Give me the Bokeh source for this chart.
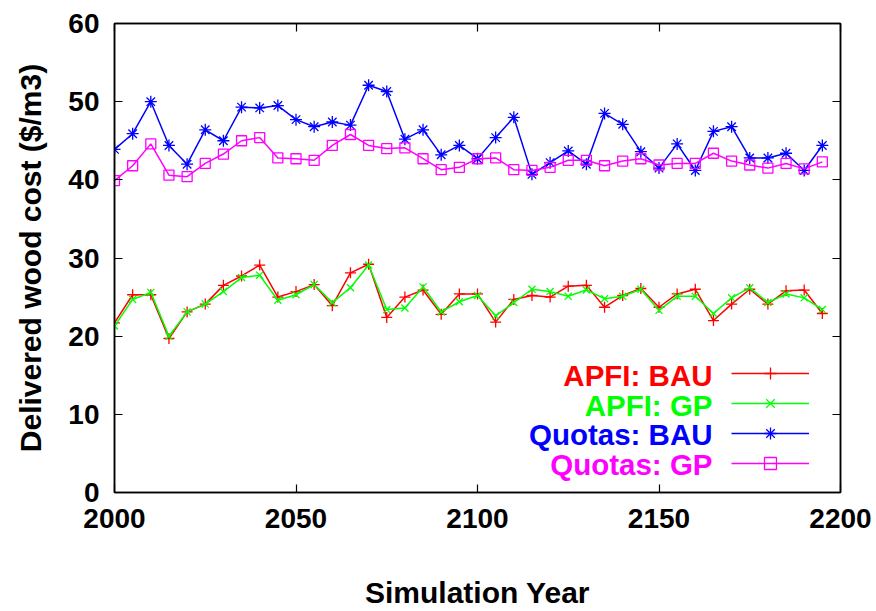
from bokeh.plotting import figure
from bokeh.models import (Range1d, LinearAxis, FixedTicker, Legend, LegendItem, Label)
from bokeh.embed import file_html
from bokeh.resources import INLINE

years = [2000, 2005, 2010, 2015, 2020, 2025, 2030, 2035, 2040, 2045,
         2050, 2055, 2060, 2065, 2070, 2075, 2080, 2085, 2090, 2095,
         2100, 2105, 2110, 2115, 2120, 2125, 2130, 2135, 2140, 2145,
         2150, 2155, 2160, 2165, 2170, 2175, 2180, 2185, 2190, 2195]

apfi_bau = [21.7, 25.3, 25.3, 19.7, 23.1, 24.1, 26.5, 27.7, 29.1, 25.0,
            25.7, 26.6, 23.9, 28.1, 29.2, 22.4, 25.0, 25.9, 22.8, 25.4,
            25.4, 21.8, 24.7, 25.2, 25.0, 26.4, 26.5, 23.7, 25.2, 26.1,
            23.7, 25.4, 26.0, 22.0, 24.1, 26.0, 24.1, 25.8, 25.9, 22.9]

apfi_gp = [21.3, 24.7, 25.6, 20.0, 23.1, 24.1, 25.7, 27.5, 27.8, 24.6,
           25.3, 26.6, 24.3, 26.2, 29.1, 23.4, 23.6, 26.3, 23.1, 24.4,
           25.2, 22.6, 24.3, 26.0, 25.7, 25.1, 25.9, 24.8, 25.1, 26.0,
           23.3, 25.1, 25.1, 22.9, 24.9, 26.2, 24.3, 25.4, 24.9, 23.4]

quotas_bau = [43.9, 45.9, 50.0, 44.4, 42.0, 46.4, 45.0, 49.3, 49.2, 49.5,
              47.7, 46.8, 47.4, 47.0, 52.1, 51.3, 45.2, 46.4, 43.2, 44.4,
              42.7, 45.4, 48.0, 40.7, 42.2, 43.7, 42.0, 48.5, 47.1, 43.6,
              41.5, 44.6, 41.2, 46.2, 46.8, 42.8, 42.8, 43.4, 41.2, 44.4]

quotas_gp = [39.9, 41.8, 44.6, 40.6, 40.4, 42.1, 43.3, 45.0, 45.4, 42.8,
             42.7, 42.5, 44.4, 45.8, 44.4, 44.0, 44.1, 42.7, 41.3, 41.6,
             42.7, 42.8, 41.3, 41.2, 41.6, 42.5, 42.5, 41.8, 42.4, 42.7,
             41.9, 42.1, 42.1, 43.4, 42.4, 41.9, 41.5, 42.1, 41.4, 42.3]

series_names = ["APFI: BAU", "APFI: GP", "Quotas: BAU", "Quotas: GP"]
x_ticks = [2000, 2050, 2100, 2150, 2200]
y_ticks = [0, 10, 20, 30, 40, 50, 60]

FONT = "Liberation Sans"

p = figure(width=876, height=611, output_backend="svg", toolbar_location=None,
           x_range=Range1d(2000, 2200), y_range=Range1d(0, 60),
           min_border_left=114, min_border_right=36, min_border_top=23,
           min_border_bottom=119)
p.grid.visible = False
p.outline_line_color = "black"
p.outline_line_width = 1.5
p.background_fill_color = "white"
p.border_fill_color = "white"

def style_axis(ax, ticks, labels=True):
    ax.ticker = FixedTicker(ticks=ticks)
    ax.minor_tick_line_color = None
    ax.major_tick_in = 8
    ax.major_tick_out = 0
    ax.major_tick_line_width = 1.2
    ax.major_tick_line_color = "black"
    ax.axis_line_color = "black"
    ax.axis_line_width = 1.5
    ax.major_label_text_font = FONT
    ax.major_label_text_font_style = "bold"
    ax.major_label_text_font_size = "28px"
    ax.major_label_text_color = "black"
    ax.axis_label_text_font = FONT
    ax.axis_label_text_font_style = "bold"
    ax.axis_label_text_font_size = "30px"
    ax.axis_label_text_color = "black"
    if not labels:
        ax.major_label_text_font_size = "0px"
        ax.major_label_text_alpha = 0

xa = p.xaxis[0]
ya = p.yaxis[0]
style_axis(xa, x_ticks)
style_axis(ya, y_ticks)
xa.axis_label = "Simulation Year"
xa.major_label_standoff = 16
xa.axis_label_standoff = 45
ya.axis_label = "Delivered wood cost ($/m3)"
ya.major_label_standoff = 15
ya.axis_label_standoff = 18

ra = LinearAxis()
style_axis(ra, y_ticks, labels=False)
p.add_layout(ra, "right")
ta = LinearAxis()
style_axis(ta, x_ticks, labels=False)
p.add_layout(ta, "above")

colors = ["#ff0000", "#00ff00", "#0000ff", "#ff00ff"]
markers = ["cross", "x", "asterisk", "square"]
sizes = [11, 10, 12, 10]
data = [apfi_bau, apfi_gp, quotas_bau, quotas_gp]

items = []
for name, vals, c, m, s in zip(series_names, data, colors, markers, sizes):
    ln = p.line(years, vals, line_color=c, line_width=1.5)
    sc = p.scatter(years, vals, marker=m, size=s, line_color=c,
                   fill_color=None, line_width=1.3)
    items.append(LegendItem(label=" ", renderers=[ln, sc]))

legend = Legend(items=items, location=(617, 14), padding=0, margin=0,
                spacing=0, glyph_width=78, glyph_height=30,
                label_text_font_size="1px", label_standoff=0, label_width=0,
                label_height=10, border_line_color=None,
                background_fill_alpha=0)
p.add_layout(legend, "center")

label_ys = [117, 87.5, 58, 28.5]
for name, c, ly in zip(series_names, colors, label_ys):
    p.add_layout(Label(x=598, y=ly, x_units="screen", y_units="screen",
                       text=name, text_align="right", text_baseline="middle",
                       text_color=c, text_font=FONT, text_font_style="bold",
                       text_font_size="29.5px"))

open("out.html", "w").write(file_html(p, INLINE))
